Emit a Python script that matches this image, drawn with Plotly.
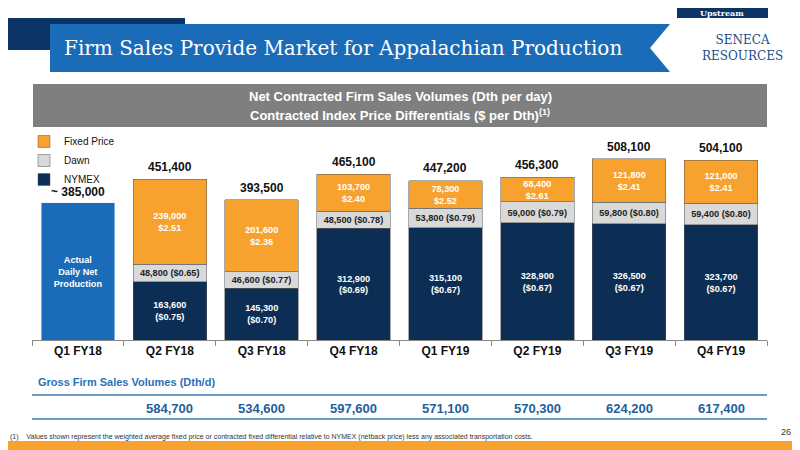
import plotly.graph_objects as go

quarters = ["Q1 FY18", "Q2 FY18", "Q3 FY18", "Q4 FY18", "Q1 FY19", "Q2 FY19", "Q3 FY19", "Q4 FY19"]
nymex = [None, 163600, 145300, 312900, 315100, 328900, 326500, 323700]
nymex_px = [None, "($0.75)", "($0.70)", "($0.69)", "($0.67)", "($0.67)", "($0.67)", "($0.67)"]
dawn = [None, 48800, 46600, 48500, 53800, 59000, 59800, 59400]
dawn_px = [None, "($0.65)", "($0.77)", "($0.78)", "($0.79)", "($0.79)", "($0.80)", "($0.80)"]
fixed = [None, 239000, 201600, 103700, 78300, 68400, 121800, 121000]
fixed_px = [None, "$2.51", "$2.36", "$2.40", "$2.52", "$2.61", "$2.41", "$2.41"]
actual_production = 385000
gross_volumes = [None, 584700, 534600, 597600, 571100, 570300, 624200, 617400]

NAVY = "#0c2e54"
GRAY = "#d9d9d9"
ORANGE = "#f7a12f"
BLUE = "#1a6cb8"

# page has an 8px body margin, so work in screen pixels and convert
W, H, OFF = 792, 442, 8
px = lambda X: (X - OFF) / W
py = lambda Y: 1 - (Y - OFF) / H

fmt = lambda v: f"{v:,}"
seg_font = dict(size=11, family="Liberation Sans")


def note(X, Y, text, xanchor="center", **font):
    fig.add_annotation(x=px(X), y=py(Y), xref="paper", yref="paper", xanchor=xanchor, yanchor="middle",
                       showarrow=False, text=text, font=font)


fig = go.Figure()
fig.add_bar(x=quarters, y=nymex, name="NYMEX", marker=dict(color=NAVY, line=dict(color="#555", width=0.5)),
            text=[None if v is None else f"<b>{fmt(v)}<br>{p}</b>" for v, p in zip(nymex, nymex_px)],
            textposition="inside", insidetextanchor="middle", textfont=dict(color="white", **seg_font))
fig.add_bar(x=quarters, y=dawn, name="Dawn", marker=dict(color=GRAY, line=dict(color="#555", width=0.5)),
            text=[None if v is None else f"<b>{fmt(v)} {p}</b>" for v, p in zip(dawn, dawn_px)],
            textposition="inside", insidetextanchor="middle", textfont=dict(color="#222", **seg_font))
fig.add_bar(x=quarters, y=fixed, name="Fixed Price", marker=dict(color=ORANGE, line=dict(color="#555", width=0.5)),
            text=[None if v is None else f"<b>{fmt(v)}<br>{p}</b>" for v, p in zip(fixed, fixed_px)],
            textposition="inside", insidetextanchor="middle", textfont=dict(color="white", **seg_font))
# actual production bar for Q1 FY18
fig.add_bar(x=[quarters[0]], y=[actual_production], marker=dict(color=BLUE), showlegend=False,
            text=["<b>Actual<br>Daily Net<br>Production</b>"], textposition="inside", insidetextanchor="middle",
            textfont=dict(color="white", **seg_font))

# totals above bars
for q, n, d, f in zip(quarters, nymex, dawn, fixed):
    if n is None:
        fig.add_annotation(x=q, y=actual_production, text="<b>~ 385,000</b>", showarrow=False, yanchor="bottom",
                           yshift=2, font=dict(size=12, color="#111"))
        continue
    total = n + d + f
    fig.add_annotation(x=q, y=total, text=f"<b>{fmt(total)}</b>", showarrow=False, yanchor="bottom",
                       yshift=3, font=dict(size=12, color="#111"))

# gross firm sales table
for q, g in zip(quarters, gross_volumes):
    if g is not None:
        fig.add_annotation(x=q, y=py(408), yref="paper", yanchor="middle", text=f"<b>{fmt(g)}</b>",
                           showarrow=False, font=dict(size=13, color="#1f5f9a"))

for yy in [395, 419]:
    fig.add_shape(type="line", xref="paper", yref="paper", x0=px(32), x1=px(767), y0=py(yy), y1=py(yy),
                  line=dict(color="#6a9cc4", width=2))

# header shapes
shapes = [
    dict(type="rect", x0=px(8), x1=px(185), y0=py(50), y1=py(18), fillcolor="#0c3566"),
    dict(type="path", fillcolor=BLUE,
         path=f"M {px(50)} {py(24)} L {px(670)} {py(24)} L {px(650)} {py(48)} L {px(670)} {py(72)} "
              f"L {px(50)} {py(72)} Z"),
    dict(type="rect", x0=px(677), x1=px(768), y0=py(18), y1=py(8), fillcolor="#0c3566"),
    dict(type="rect", x0=px(33), x1=px(767), y0=py(127), y1=py(84), fillcolor="#7f7f7f"),
    dict(type="rect", x0=px(8), x1=px(800), y0=py(450), y1=py(441), fillcolor=ORANGE),
]
for s in shapes:
    fig.add_shape(xref="paper", yref="paper", layer="below", line_width=0, **s)

note(343, 48, "Firm Sales Provide Market for Appalachian Production",
     family="DejaVu Serif", size=20, color="white")
note(722, 13, "<b>Upstream</b>", family="DejaVu Serif", size=8, color="white")
note(742, 48, "SENECA<br>RESOURCES", family="DejaVu Serif", size=12, color="#1a4f86")
note(400, 97, "<b>Net Contracted Firm Sales Volumes (Dth per day)</b>", size=13, color="white")
note(400, 115, "<b>Contracted Index Price Differentials ($ per Dth)<sup>(1)</sup></b>", size=13, color="white")
note(36, 382, "<b>Gross Firm Sales Volumes (Dth/d)</b>", xanchor="left", size=11, color="#2a72b5")
note(8, 437, "(1)    Values shown represent the weighted average fixed price or contracted fixed differential "
             "relative to NYMEX (netback price) less any associated transportation costs.",
     xanchor="left", size=7, color="#333")
note(786, 432, "26", size=9, color="#333")

fig.update_layout(
    width=W, height=H, barmode="stack", bargap=0.2,
    margin=dict(l=0, r=0, t=0, b=0),
    paper_bgcolor="white", plot_bgcolor="white",
    font=dict(family="Liberation Sans"),
    uniformtext=dict(mode="show", minsize=8),
    legend=dict(x=px(24), y=py(127), xanchor="left", yanchor="top", traceorder="reversed",
                font=dict(size=10, color="#111"), bgcolor="rgba(0,0,0,0)", tracegroupgap=0,
                itemwidth=30),
    xaxis=dict(domain=[px(32), px(767)], showline=True, linecolor="#888", ticks="outside",
               tickson="boundaries", ticklen=5, tickcolor="#888",
               tickfont=dict(size=12, color="#111", family="Liberation Sans"),
               tickprefix="<b>", ticksuffix="</b>"),
    yaxis=dict(domain=[py(340), py(126)], range=[0, 600000], visible=False),
)

fig.write_html("out.html")
